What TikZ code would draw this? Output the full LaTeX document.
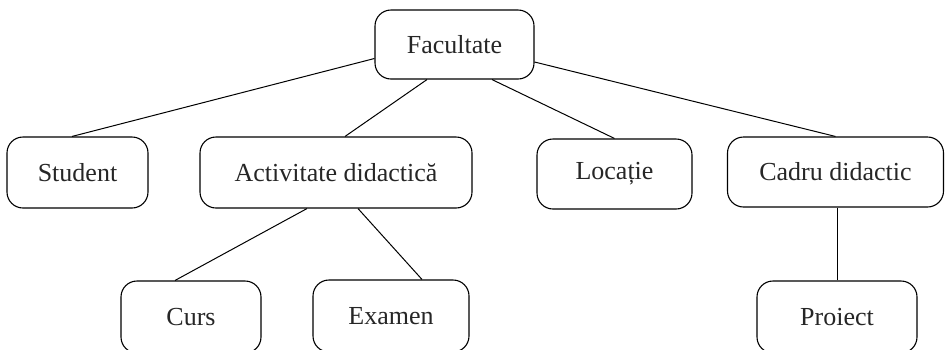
\documentclass[tikz,border=0pt]{standalone}
\usepackage{fontspec}
\setmainfont{Liberation Serif}
\begin{document}
\begin{tikzpicture}[x=1pt,y=-1pt,
  box/.style={draw, line width=1.1pt, rounded corners=16pt, inner sep=0pt, anchor=center,
    font=\fontsize{26}{30}\selectfont, text=black!85},
  link/.style={line width=1pt}]
\useasboundingbox (0,0) rectangle (945,349);
\node[box, minimum width=159pt, minimum height=69pt] (fac) at (454.5,44.5) {Facultate};
\node[box, minimum width=141pt, minimum height=71pt] (stu) at (77.5,172.5) {Student};
\node[box, minimum width=272pt, minimum height=71pt] (act) at (336,172.5) {Activitate didactică};
\node[box, minimum width=155pt, minimum height=70pt] (loc) at (614.5,174) {Locație};
\node[box, minimum width=216pt, minimum height=70pt] (cad) at (835.5,172) {Cadru didactic};
\node[box, minimum width=140pt, minimum height=72pt] (curs) at (191,317) {Curs};
\node[box, minimum width=156pt, minimum height=72pt] (exam) at (391,316) {Examen};
\node[box, minimum width=160pt, minimum height=72pt] (proi) at (837,317) {Proiect};
\draw[link] ([yshift=-14pt]fac.west) -- ([xshift=-5.5pt]stu.north);
\draw[link] ([xshift=-27.5pt]fac.south) -- ([xshift=9pt]act.north);
\draw[link] ([xshift=37.5pt]fac.south) -- (loc.north);
\draw[link] ([yshift=-17.5pt]fac.east) -- (cad.north);
\draw[link] ([xshift=-29pt]act.south) -- ([xshift=-16pt]curs.north);
\draw[link] ([xshift=22pt]act.south) -- ([xshift=31pt]exam.north);
\draw[link] (proi.north) -- (proi.north |- cad.south);
\end{tikzpicture}
\end{document}
